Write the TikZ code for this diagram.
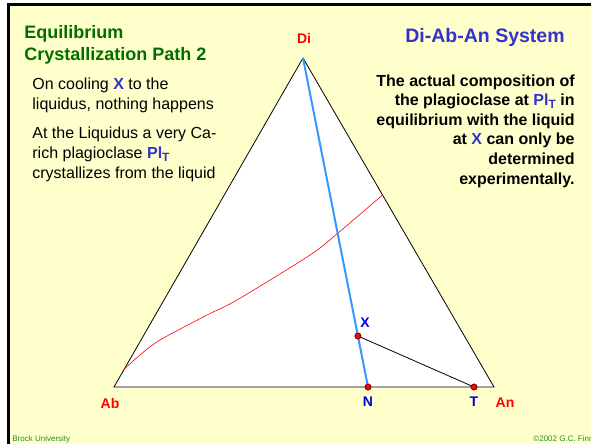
\documentclass[tikz,border=0pt]{standalone}
\usepackage{fontspec}
\setmainfont{Liberation Sans}
\usetikzlibrary{calc}
\definecolor{fondoamarillo}{RGB}{255,255,204}
\definecolor{verdetitulo}{RGB}{0,110,0}
\definecolor{verdepie}{RGB}{40,140,40}
\definecolor{azultexto}{RGB}{51,51,204}
\definecolor{azulpunto}{RGB}{0,0,230}
\definecolor{azulrecta}{RGB}{51,153,255}
\definecolor{rojovertice}{RGB}{255,0,0}
\definecolor{rojooscuro}{RGB}{110,0,0}
\newcommand{\plsub}[1]{Pl\raisebox{-3pt}{\fontsize{#1}{#1}\selectfont T}}

\begin{document}
\begin{tikzpicture}[x=1pt, y=-1pt, line width=0.8pt,
    vertice/.style={text=rojovertice, font=\fontsize{14}{14}\selectfont\bfseries, inner sep=0},
    etiqueta/.style={text=azulpunto, font=\fontsize{14}{14}\selectfont\bfseries, inner sep=0},
    punto/.style={circle, fill=red, draw=rojooscuro, line width=0.6pt, minimum size=6pt, inner sep=0},
    texto/.style={font=\fontsize{16}{20}\selectfont, align=left, inner sep=0, anchor=base west}]
    \useasboundingbox (0,0) rectangle (591,444);
    % fondo de la diapositiva y marco
    \fill[white] (0,0) rectangle (591,444);
    \fill[fondoamarillo] (8.5,4.7) rectangle (591,444);
    \draw[line width=2.8pt] (8.5,444) -- (8.5,4.7) -- (591,4.7);
    % triangulo Di-Ab-An
    \coordinate (Di) at (303,58);
    \coordinate (Ab) at (114,387);
    \coordinate (An) at (494,387);
    \filldraw[fill=white] (Ab) -- (Di) -- (An) -- cycle;
    % curva del liquidus
    \draw[red, line width=0.6pt] plot[smooth] coordinates
        {(124.3,369) (140,355) (160,340) (207,315) (237,300) (310,255) (338,233) (382.5,195)};
    % recta Di-X-N y recta X-T
    \node[punto] (N) at (368,387) {};
    \node[punto] (X) at ($(Di)!0.845!(N)$) {};
    \node[punto] (T) at (474,387) {};
    \draw[azulrecta, line width=2pt] (Di) -- (N.center);
    \draw (X.center) -- (T.center);
    \node[punto] at (N) {};
    \node[punto] at (X) {};
    \node[punto] at (T) {};
    % etiquetas
    \node[vertice] (lDi) at (304,38) {Di};
    \node[vertice] (lAb) at (110,403) {Ab};
    \node[vertice] (lAn) at (505,403) {An};
    \node[etiqueta] (lX) at (365,323) {X};
    \node[etiqueta] (lN) at (368,402) {N};
    \node[etiqueta] (lT) at (474,402) {T};
    % textos de la izquierda (base = ultima linea)
    \node[texto, font=\fontsize{18}{22}\selectfont\bfseries, text=verdetitulo] (titulo) at (24,60)
        {Equilibrium\\Crystallization Path 2};
    \node[texto] (parrafoA) at (32,109)
        {On cooling \textbf{\textcolor{azultexto}{X}} to the\\liquidus, nothing happens};
    \node[texto] (parrafoB) at (32,178)
        {At the Liquidus a very Ca-\\rich plagioclase \textbf{\textcolor{azultexto}{\plsub{12}}}\\crystallizes from the liquid};
    % textos de la derecha
    \node[texto, font=\fontsize{19.5}{20}\selectfont\bfseries, text=azultexto] (sistema) at (405,43)
        {Di-Ab-An System};
    \node[texto, anchor=base east, align=right, font=\fontsize{16}{19.6}\selectfont\bfseries] (nota) at (575,184)
        {The actual composition of\\the plagioclase at \textcolor{azultexto}{\plsub{12}} in\\equilibrium with the liquid\\at \textcolor{azultexto}{X} can only be\\determined\\experimentally.};
    % pie
    \node[texto, font=\fontsize{8}{8}\selectfont, text=verdepie] (pieA) at (12,441) {Brock University};
    \node[texto, font=\fontsize{8}{8}\selectfont, text=verdepie] (pieB) at (533,441) {©2002 G.C. Finn};
\end{tikzpicture}
\end{document}
